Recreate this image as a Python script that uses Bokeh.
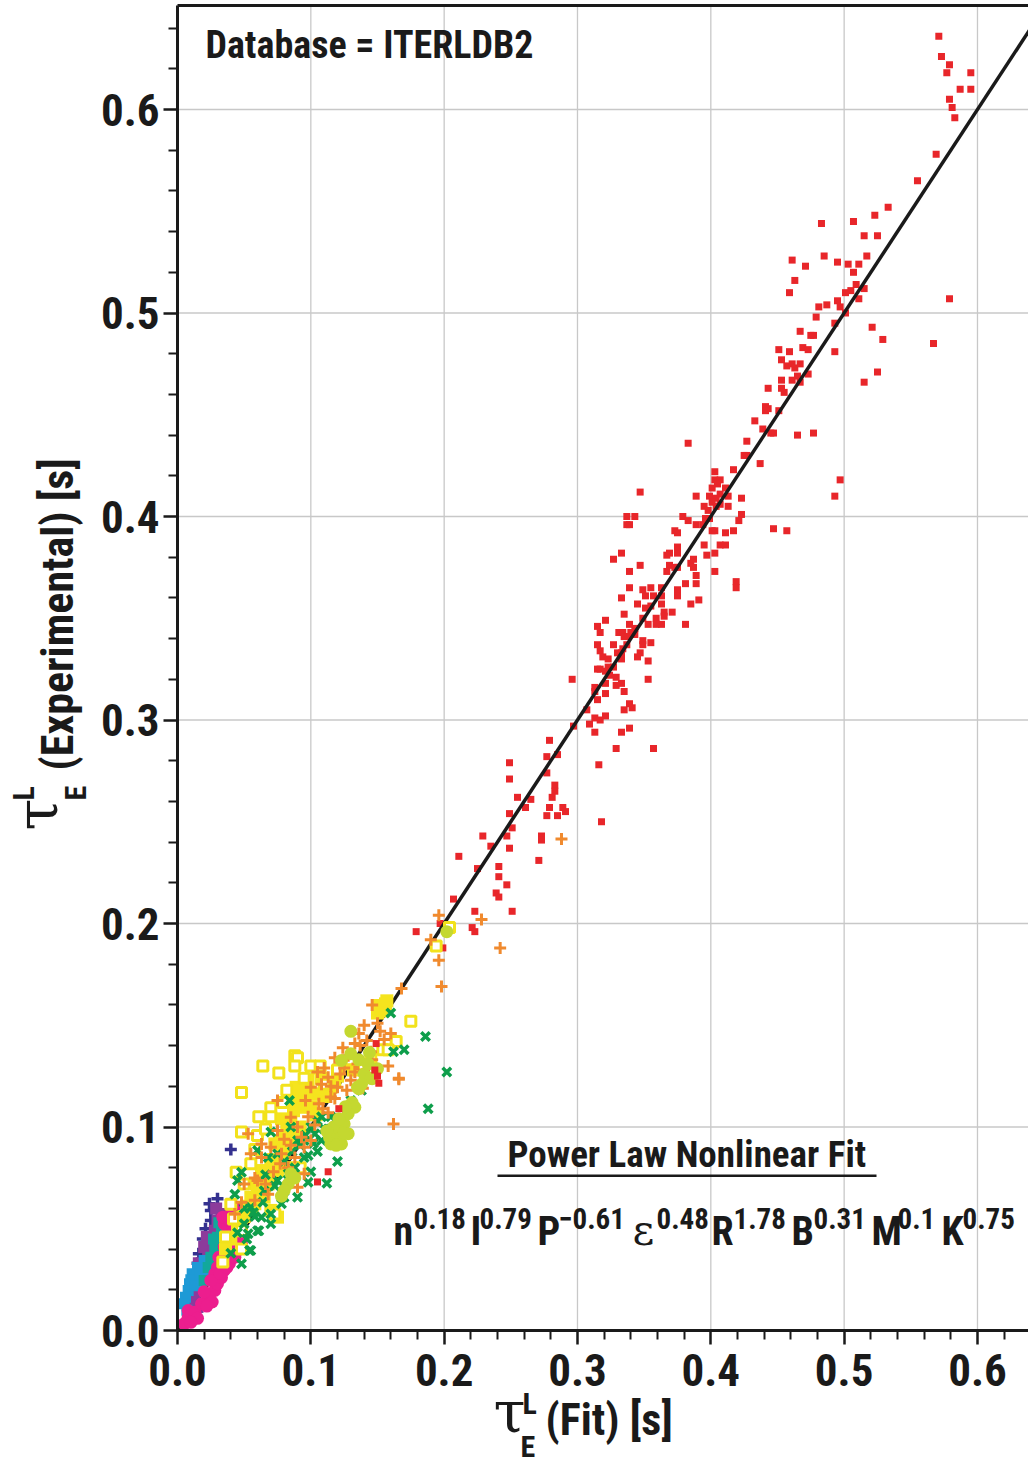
import math
from bokeh.plotting import figure
from bokeh.models import Range1d, FixedTicker, Label, BoxAnnotation
from bokeh.embed import file_html
from bokeh.resources import INLINE

# ---------------- data (tau_E fit, tau_E experimental) in seconds ----------------
red_pts = [
    (0.571,0.636),(0.573,0.626),(0.579,0.622),(0.577,0.618),(0.595,0.618),(0.587,0.610),(0.595,0.610),
    (0.579,0.605),(0.581,0.601),(0.583,0.596),(0.569,0.578),(0.555,0.565),(0.533,0.552),(0.523,0.548),
    (0.507,0.545),(0.483,0.544),(0.515,0.538),(0.525,0.538),(0.485,0.528),(0.517,0.528),(0.495,0.525),
    (0.471,0.523),(0.503,0.524),(0.511,0.524),(0.507,0.520),(0.515,0.512),(0.509,0.514),(0.505,0.511),
    (0.501,0.510),(0.511,0.507),(0.495,0.506),(0.487,0.504),(0.481,0.503),(0.497,0.503),(0.501,0.500),
    (0.579,0.507),(0.479,0.498),(0.493,0.495),(0.521,0.493),(0.529,0.487),(0.567,0.485),(0.475,0.489),
    (0.477,0.489),(0.469,0.483),(0.473,0.482),(0.493,0.481),(0.525,0.471),(0.515,0.466),(0.473,0.470),
    (0.461,0.526),(0.463,0.516),(0.459,0.510),(0.467,0.491),(0.451,0.482),(0.459,0.481),(0.453,0.477),
    (0.457,0.474),(0.461,0.475),(0.463,0.473),(0.467,0.475),(0.453,0.467),(0.461,0.467),(0.465,0.469),
    (0.467,0.466),(0.443,0.463),(0.453,0.463),(0.455,0.461),(0.441,0.454),(0.443,0.453),(0.441,0.452),
    (0.451,0.452),(0.433,0.447),(0.439,0.443),(0.445,0.441),(0.447,0.441),(0.465,0.440),(0.477,0.441),
    (0.427,0.437),(0.425,0.430),(0.427,0.430),(0.437,0.426),(0.417,0.423),(0.497,0.418),(0.493,0.410),
    (0.403,0.422),(0.403,0.418),(0.407,0.418),(0.405,0.416),(0.401,0.414),(0.411,0.414),(0.399,0.410),
    (0.407,0.411),(0.413,0.410),(0.404,0.409),(0.401,0.407),(0.407,0.406),(0.404,0.405),(0.413,0.405),
    (0.423,0.409),(0.395,0.405),(0.398,0.403),(0.396,0.399),(0.399,0.399),(0.423,0.401),(0.421,0.398),
    (0.394,0.396),(0.401,0.393),(0.403,0.393),(0.411,0.392),(0.417,0.393),(0.447,0.394),(0.457,0.393),
    (0.395,0.386),(0.407,0.386),(0.411,0.386),(0.403,0.382),(0.397,0.381),(0.383,0.436),(0.347,0.412),
    (0.389,0.410),(0.337,0.400),(0.343,0.400),(0.337,0.396),(0.339,0.396),(0.379,0.400),(0.383,0.398),
    (0.389,0.396),(0.373,0.393),(0.375,0.392),(0.375,0.385),(0.375,0.382),(0.369,0.382),(0.367,0.381),
    (0.333,0.382),(0.327,0.379),(0.347,0.376),(0.339,0.373),(0.369,0.376),(0.367,0.373),(0.373,0.375),
    (0.375,0.375),(0.385,0.377),(0.387,0.379),(0.387,0.375),(0.403,0.373),(0.389,0.371),(0.419,0.368),
    (0.419,0.365),(0.381,0.367),(0.389,0.367),(0.339,0.365),(0.349,0.364),(0.355,0.365),(0.363,0.365),
    (0.375,0.364),(0.375,0.361),(0.333,0.360),(0.351,0.361),(0.357,0.361),(0.363,0.361),(0.345,0.357),
    (0.355,0.356),(0.363,0.357),(0.385,0.357),(0.391,0.359),(0.351,0.355),(0.365,0.353),(0.365,0.351),
    (0.371,0.353),(0.335,0.352),(0.321,0.349),(0.349,0.350),(0.353,0.347),(0.359,0.350),(0.359,0.347),
    (0.363,0.347),(0.381,0.347),(0.315,0.346),(0.317,0.343),(0.339,0.347),(0.331,0.343),(0.334,0.343),
    (0.340,0.343),(0.343,0.345),(0.343,0.342),(0.335,0.341),(0.338,0.341),(0.349,0.339),(0.315,0.337),
    (0.327,0.337),(0.337,0.337),(0.349,0.337),(0.355,0.338),(0.334,0.335),(0.317,0.334),(0.333,0.333),
    (0.330,0.333),(0.347,0.333),(0.345,0.331),(0.319,0.331),(0.323,0.330),(0.333,0.330),(0.353,0.329),
    (0.315,0.325),(0.317,0.325),(0.323,0.326),(0.327,0.326),(0.321,0.324),(0.324,0.322),(0.329,0.321),
    (0.329,0.317),(0.333,0.318),(0.321,0.318),(0.353,0.320),(0.313,0.316),(0.313,0.314),(0.321,0.313),
    (0.335,0.314),(0.315,0.310),(0.339,0.308),(0.341,0.306),(0.335,0.305),(0.307,0.305),(0.321,0.302),
    (0.313,0.301),(0.317,0.300),(0.309,0.298),(0.297,0.297),(0.313,0.294),(0.333,0.294),(0.339,0.296),
    (0.329,0.286),(0.357,0.286),(0.296,0.320),(0.316,0.278),(0.318,0.250),(0.279,0.290),(0.277,0.282),
    (0.285,0.283),(0.277,0.274),(0.249,0.279),(0.249,0.271),(0.283,0.268),(0.283,0.265),(0.281,0.262),
    (0.255,0.262),(0.265,0.261),(0.261,0.257),(0.279,0.257),(0.289,0.257),(0.291,0.255),(0.277,0.253),
    (0.285,0.253),(0.249,0.254),(0.251,0.247),(0.229,0.243),(0.247,0.243),(0.273,0.243),(0.273,0.241),
    (0.235,0.238),(0.249,0.237),(0.211,0.233),(0.271,0.231),(0.225,0.227),(0.241,0.228),(0.241,0.223),
    (0.247,0.219),(0.239,0.215),(0.241,0.213),(0.207,0.212),(0.223,0.206),(0.251,0.206),(0.197,0.200),
    (0.221,0.198),(0.223,0.196),(0.179,0.196),(0.199,0.188),
]
red_low_pts = [(0.149,0.141),(0.150,0.125),(0.151,0.1215),(0.148,0.128),(0.113,0.078),(0.105,0.073),(0.121,0.109)]
orange_pts = [
    (0.196,0.204),(0.228,0.202),(0.190,0.192),(0.196,0.182),(0.242,0.188),(0.198,0.169),(0.168,0.168),
    (0.160,0.146),(0.158,0.130),(0.166,0.124),(0.288,0.2415),(0.146,0.160),(0.150,0.151),(0.136,0.146),
    (0.142,0.1425),(0.166,0.1235),(0.162,0.1015),(0.118,0.134),(0.125,0.129),(0.110,0.129),(0.105,0.127),
    (0.113,0.1245),(0.130,0.123),(0.120,0.1195),(0.139,0.119),(0.100,0.1195),(0.115,0.1147),(0.106,0.1114),
    (0.075,0.113),(0.085,0.1048),(0.090,0.100),(0.100,0.0934),(0.095,0.090),(0.088,0.085),(0.083,0.080),
    (0.078,0.0868),(0.070,0.090),(0.063,0.085),(0.053,0.0967),(0.055,0.0868),(0.060,0.0737),(0.050,0.072),
    (0.075,0.0983),(0.063,0.0917),(0.095,0.077),(0.090,0.0704),(0.068,0.067),(0.043,0.0573),(0.096,0.113),
    (0.124,0.139),(0.133,0.141),(0.128,0.135),(0.135,0.131),(0.122,0.126),(0.140,0.128),(0.108,0.121),
    (0.098,0.105),(0.080,0.094),(0.093,0.095),(0.072,0.078),(0.058,0.064),(0.103,0.101),(0.113,0.107),
    (0.145,0.137),(0.155,0.143),(0.115,0.120),(0.127,0.118),(0.133,0.127),(0.146,0.133),(0.152,0.147),
    (0.137,0.140),(0.118,0.114),(0.109,0.109),(0.085,0.091),(0.077,0.082),(0.066,0.072),(0.058,0.075),
    (0.048,0.063),(0.140,0.150),
]
green_pts = [
    (0.160,0.156),(0.170,0.138),(0.162,0.137),(0.186,0.1445),(0.202,0.127),(0.188,0.109),(0.120,0.083),
    (0.112,0.0724),(0.098,0.086),(0.125,0.103),(0.105,0.103),(0.103,0.0967),(0.095,0.0934),(0.084,0.113),
    (0.070,0.0975),(0.060,0.0885),(0.068,0.085),(0.075,0.0868),(0.075,0.0737),(0.078,0.0623),(0.070,0.0573),
    (0.090,0.0655),(0.098,0.0729),(0.083,0.077),(0.045,0.0737),(0.043,0.067),(0.048,0.0778),(0.055,0.0606),
    (0.061,0.049),(0.055,0.0393),(0.048,0.0328),(0.053,0.0475),(0.063,0.0557),(0.090,0.0934),(0.085,0.100),
    (0.100,0.100),(0.108,0.0934),(0.095,0.085),(0.054,0.0393),(0.060,0.049),(0.070,0.0524),(0.080,0.0655),
    (0.110,0.099),(0.115,0.092),(0.118,0.097),(0.092,0.091),(0.065,0.0687),(0.058,0.056),(0.050,0.0525),
    (0.088,0.080),(0.105,0.088),(0.128,0.108),(0.115,0.105),(0.100,0.078),(0.066,0.0765),(0.052,0.045),
    (0.108,0.105),(0.113,0.099),(0.122,0.100),(0.102,0.092),(0.096,0.096),(0.086,0.088),(0.080,0.083),
    (0.073,0.071),(0.064,0.063),(0.057,0.058),(0.050,0.060),(0.045,0.048),(0.040,0.038),(0.130,0.113),
    (0.138,0.118),
]
yellow_open_pts = [
    (0.175,0.152),(0.164,0.142),(0.154,0.138),(0.064,0.130),(0.076,0.1265),(0.088,0.135),(0.090,0.134),
    (0.088,0.130),(0.048,0.117),(0.061,0.105),(0.070,0.1094),(0.070,0.105),(0.048,0.0975),(0.060,0.0958),
    (0.100,0.130),(0.107,0.130),(0.145,0.134),(0.044,0.0778),(0.050,0.072),(0.092,0.080),(0.073,0.0573),
    (0.042,0.0548),(0.048,0.049),(0.034,0.0336),(0.048,0.040),(0.204,0.198),(0.194,0.189),(0.158,0.138),
    (0.082,0.118),(0.079,0.112),(0.095,0.124),(0.058,0.089),(0.066,0.099),(0.040,0.062),(0.036,0.046),
    (0.110,0.121),(0.120,0.128),(0.130,0.133),(0.055,0.082),
]
yellow_fill_pts = [
    (0.157,0.162),(0.155,0.1597),(0.153,0.157),(0.151,0.1597),(0.156,0.1605),(0.089,0.1195),(0.091,0.1147),
    (0.093,0.1097),(0.080,0.095),(0.083,0.0917),(0.078,0.0885),(0.070,0.082),(0.085,0.080),(0.075,0.0786),
    (0.068,0.072),(0.055,0.0655),(0.058,0.0623),(0.070,0.059),(0.075,0.0557),(0.048,0.0557),(0.115,0.1195),
    (0.113,0.118),(0.103,0.1163),(0.098,0.123),(0.105,0.129),(0.090,0.0967),(0.150,0.156),(0.085,0.103),
    (0.073,0.0917),(0.063,0.0786),(0.059,0.072),(0.065,0.0655),(0.095,0.112),(0.087,0.108),(0.082,0.100),
    (0.077,0.093),(0.062,0.069),(0.052,0.061),(0.045,0.051),(0.040,0.045),(0.036,0.040),(0.108,0.124),
    (0.120,0.125),(0.097,0.118),(0.100,0.110),(0.104,0.106),(0.092,0.100),(0.088,0.094),(0.080,0.087),
    (0.072,0.084),(0.066,0.076),(0.060,0.070),(0.110,0.115),(0.118,0.122),(0.125,0.131),(0.132,0.128),
    (0.086,0.113),(0.078,0.104),(0.056,0.060),(0.050,0.056),
]
lime_pts = [
    (0.130,0.147),(0.130,0.136),(0.136,0.133),(0.140,0.126),(0.146,0.1237),(0.136,0.1188),(0.133,0.1097),
    (0.125,0.1016),(0.120,0.0983),(0.118,0.095),(0.123,0.0917),(0.114,0.095),(0.115,0.0917),(0.128,0.0967),
    (0.128,0.1065),(0.085,0.077),(0.083,0.072),(0.080,0.0688),(0.123,0.1327),(0.143,0.131),(0.135,0.1195),
    (0.202,0.196),(0.144,0.1366),(0.150,0.1286),(0.145,0.124),(0.117,0.100),(0.121,0.104),(0.125,0.097),
    (0.119,0.091),(0.112,0.098),(0.131,0.112),(0.126,0.110),(0.088,0.075),(0.078,0.066),(0.138,0.121),
]
magenta_pts = [
    (0.005,0.0033),(0.008,0.0065),(0.008,0.0098),(0.028,0.0197),(0.030,0.023),(0.033,0.026),(0.035,0.0295),
    (0.039,0.033),(0.043,0.036),(0.045,0.0393),(0.048,0.0426),(0.045,0.0458),(0.048,0.049),(0.040,0.0573),
    (0.043,0.0606),(0.038,0.049),(0.035,0.041),(0.033,0.0344),(0.028,0.0279),(0.025,0.0246),(0.030,0.031),
    (0.040,0.0442),(0.023,0.0164),(0.013,0.009),(0.018,0.0131),(0.035,0.0524),(0.034,0.0557),(0.020,0.019),
    (0.038,0.038),(0.042,0.040),(0.036,0.045),(0.031,0.036),(0.026,0.014),(0.022,0.012),(0.015,0.006),
    (0.010,0.004),(0.032,0.028),(0.037,0.031),(0.041,0.047),(0.044,0.052),(0.047,0.044),(0.039,0.054),
]
purple_pts = [
    (0.015,0.0115),(0.013,0.018),(0.018,0.0246),(0.020,0.031),(0.023,0.0377),(0.025,0.0442),(0.028,0.049),
    (0.030,0.054),(0.033,0.0573),(0.031,0.0508),(0.020,0.041),(0.016,0.033),(0.014,0.0246),(0.010,0.0147),
    (0.023,0.0279),(0.025,0.0344),(0.027,0.039),(0.022,0.046),(0.029,0.060),
]
navy_pts = [
    (0.024,0.0623),(0.030,0.0647),(0.025,0.059),(0.025,0.054),(0.024,0.0164),(0.015,0.0115),(0.014,0.0074),
    (0.018,0.0123),(0.016,0.0377),(0.015,0.033),(0.040,0.089),(0.021,0.050),(0.019,0.045),
]
cyan_pts = [
    (0.008,0.0197),(0.009,0.023),(0.006,0.0164),(0.005,0.0131),(0.011,0.0279),(0.015,0.031),(0.020,0.0344),
    (0.024,0.0295),(0.010,0.025),(0.017,0.027),(0.013,0.022),(0.007,0.010),
]
teal_pts = [
    (0.033,0.049),(0.035,0.0524),(0.028,0.041),(0.025,0.036),(0.030,0.0458),(0.023,0.031),(0.020,0.0246),
    (0.031,0.053),(0.027,0.045),
]

fit_line = [0.0, 0.66]
tick_vals = [0.0, 0.1, 0.2, 0.3, 0.4, 0.5, 0.6]
tick_labels = ["0.0", "0.1", "0.2", "0.3", "0.4", "0.5", "0.6"]
minor_vals = [0.02, 0.04, 0.06, 0.08, 0.12, 0.14, 0.16, 0.18, 0.22, 0.24, 0.26, 0.28,
              0.32, 0.34, 0.36, 0.38, 0.42, 0.44, 0.46, 0.48, 0.52, 0.54, 0.56, 0.58, 0.62, 0.64]
exponents = [("n", "0.18"), ("I", "0.79"), ("P", "\u22120.61"), ("\u03b5", "0.48"),
             ("R", "1.78"), ("B", "0.31"), ("M", "0.1"), ("K", "0.75")]

# ---------------- geometry (page pixels; canvas starts at page 0,0) ----------------
FONT = "Roboto Condensed, DejaVu Sans Condensed, sans-serif"
SERIF = "DejaVu Serif"
INK = "#1a1a1a"
W, H = 1028, 1464
X0PX, Y0PX = 177, 1330       # page position of data origin
SX, SY = 1333.3, 2035.0      # pixels per data unit
x_lo, x_hi = -X0PX / SX, (W - X0PX) / SX
y_lo, y_hi = (Y0PX - H) / SY, Y0PX / SY
x_end = x_hi
y_top = (Y0PX - 5) / SY
BASE_K = 0.35                # label baseline correction, fraction of font size

p = figure(width=W, height=H, output_backend="svg", toolbar_location=None,
           x_range=Range1d(x_lo, x_hi), y_range=Range1d(y_lo, y_hi),
           min_border_left=0, min_border_right=0, min_border_top=0, min_border_bottom=0)
p.outline_line_color = None
p.background_fill_color = "white"
p.grid.visible = False

# grid lines at the major ticks (inside the data box only)
p.segment(x0=tick_vals[1:], y0=[0] * 6, x1=tick_vals[1:], y1=[y_top] * 6, line_color="#c8c8c8", line_width=1.3)
p.segment(x0=[0] * 6, y0=tick_vals[1:], x1=[x_end] * 6, y1=tick_vals[1:], line_color="#c8c8c8", line_width=1.3)

ticker = FixedTicker(ticks=tick_vals, minor_ticks=minor_vals)
overrides = {v: lab for v, lab in zip(tick_vals, tick_labels)}
for ax in (p.xaxis[0], p.yaxis[0]):
    ax.fixed_location = 0.0
    ax.ticker = ticker
    ax.major_label_overrides = overrides
    ax.axis_line_width = 3
    ax.axis_line_color = INK
    ax.major_tick_line_width = 2.5
    ax.major_tick_line_color = INK
    ax.minor_tick_line_width = 2
    ax.minor_tick_line_color = INK
    ax.major_tick_in = 0
    ax.major_tick_out = 14
    ax.minor_tick_in = 0
    ax.minor_tick_out = 9
    ax.major_label_text_font = FONT
    ax.major_label_text_font_style = "bold"
    ax.major_label_text_font_size = "45px"
    ax.major_label_text_color = INK
p.xaxis[0].bounds = (0, x_end)
p.yaxis[0].bounds = (0, y_top)
p.xaxis[0].major_label_standoff = 9
p.yaxis[0].major_label_standoff = 4

# top border of the data box
p.line([0, x_end], [y_top, y_top], line_color=INK, line_width=3)

def xs(pts):
    return [a for a, b in pts]

def ys(pts):
    return [b for a, b in pts]

# ---------------- markers ----------------
p.scatter(xs(red_pts), ys(red_pts), marker="square", size=7, fill_color="#E8262A", line_color=None)
p.line(fit_line, fit_line, line_color=INK, line_width=3.5)
p.scatter(xs(navy_pts), ys(navy_pts), marker="cross", size=12, line_color="#34318F", line_width=3.5)
p.scatter(xs(purple_pts), ys(purple_pts), marker="square", size=12, fill_color="#8C3B9B", line_color=None)
p.scatter(xs(cyan_pts), ys(cyan_pts), marker="square", size=11, fill_color="#1E9AD6", line_color=None)
p.scatter(xs(teal_pts), ys(teal_pts), marker="square", size=11, fill_color="#12A89B", line_color=None)
p.scatter(xs(magenta_pts), ys(magenta_pts), marker="circle", size=13, fill_color="#EC1E8E", line_color=None)
p.scatter(xs(yellow_fill_pts), ys(yellow_fill_pts), marker="square", size=13, fill_color="#F5E41E", line_color=None)
p.scatter(xs(yellow_open_pts), ys(yellow_open_pts), marker="square", size=10, fill_color="white",
          line_color="#F2E21C", line_width=3)
p.scatter(xs(green_pts), ys(green_pts), marker="x", size=12, line_color="#0E9E4B", line_width=3.5)
p.scatter(xs(orange_pts), ys(orange_pts), marker="cross", size=12, line_color="#F08A2E", line_width=3)
p.scatter(xs(lime_pts), ys(lime_pts), marker="circle", size=13, fill_color="#C4D830", line_color=None)
p.scatter(xs(red_low_pts), ys(red_low_pts), marker="square", size=7, fill_color="#E8262A", line_color=None)

# ---------------- text (positions given as page pixels of the baseline start) ----------------
def lab(text, px, py, size, font=FONT, style="bold", angle=0.0):
    d = BASE_K * size
    if angle == 0.0:
        sx, sy = px, H - (py - d)
    else:
        sx, sy = px - d, H - py
    p.add_layout(Label(x=sx, y=sy, x_units="screen", y_units="screen", text=text,
                       text_font=font, text_font_style=style, text_font_size=f"{size}px",
                       text_color=INK, angle=angle, text_align="left", text_baseline="alphabetic"))

lab("Database = ITERLDB2", 205, 58, 38)
lab("Power Law Nonlinear Fit", 507, 1167, 37)
p.add_layout(BoxAnnotation(left=497, right=876, bottom=H - 1176.5, top=H - 1174,
                           left_units="screen", right_units="screen", bottom_units="screen",
                           top_units="screen", fill_color=INK, fill_alpha=1, line_color=None))

base_x = [393, 470, 537, 632, 711, 791, 871, 941]
sup_x = [413, 479, 558, 656, 733, 813, 897, 962]
for (b, e), bx, sx_ in zip(exponents, base_x, sup_x):
    if b == "\u03b5":
        lab(b, bx, 1245, 42, font=SERIF, style="normal")
    else:
        lab(b, bx, 1245, 40)
    lab(e, sx_, 1228, 29)

# x-axis title
lab("\u03c4", 493, 1432, 58, font=SERIF, style="normal")
lab("L", 522, 1413, 30)
lab("E", 520, 1456, 30)
lab("(Fit) [s]", 545, 1435, 44)

# y-axis title (rotated)
R = math.pi / 2
lab("\u03c4", 57, 830, 58, font=SERIF, style="normal", angle=R)
lab("L", 33, 800, 30, angle=R)
lab("E", 85, 800, 30, angle=R)
lab("(Experimental) [s]", 73, 770, 44, angle=R)

open("out.html", "w").write(file_html(p, INLINE))
